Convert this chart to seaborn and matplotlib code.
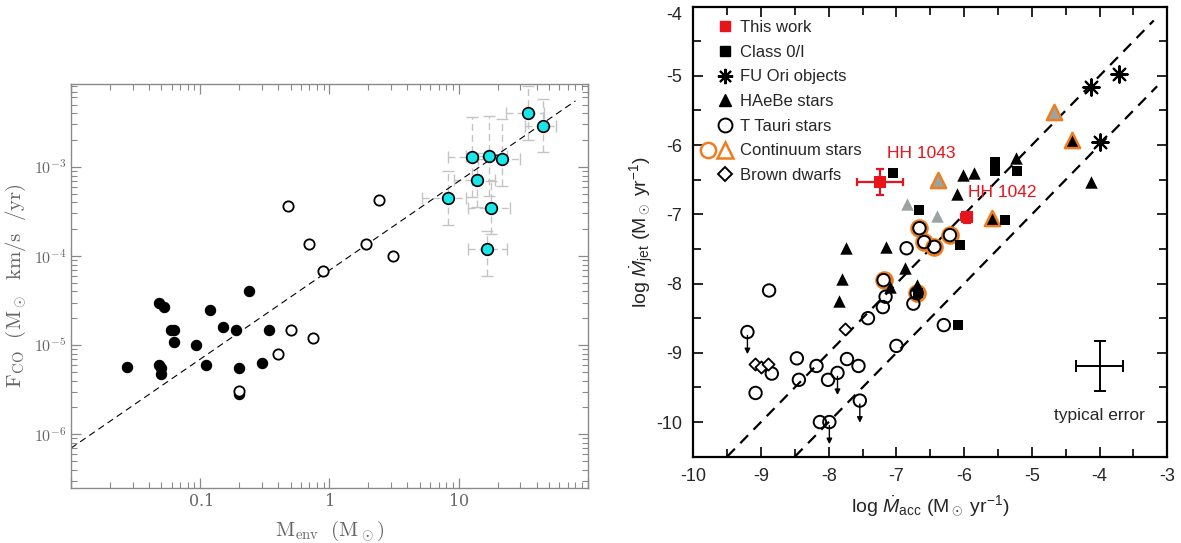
import numpy as np
import matplotlib
matplotlib.use("Agg")
import matplotlib.pyplot as plt
from matplotlib.lines import Line2D
from matplotlib.legend_handler import HandlerTuple
from matplotlib.ticker import FixedLocator, NullFormatter, MultipleLocator
import seaborn as sns

# ---------------- left panel data (F_CO vs M_env) ----------------
fill_x = [0.027, 0.048, 0.050, 0.050, 0.048, 0.052, 0.059, 0.0625, 0.063, 0.092,
          0.12, 0.15, 0.11, 0.19, 0.20, 0.20, 0.24, 0.30, 0.34]
fill_y = [5.7e-6, 6.0e-6, 5.5e-6, 4.7e-6, 2.96e-5, 2.65e-5, 1.48e-5, 1.48e-5, 1.08e-5, 1.0e-5,
          2.47e-5, 1.58e-5, 6.0e-6, 1.48e-5, 5.6e-6, 2.8e-6, 4.05e-5, 6.3e-6, 1.48e-5]

open_x = [0.20, 0.40, 0.50, 0.75, 0.48, 0.70, 0.89, 1.9, 2.4, 3.1]
open_y = [3.1e-6, 7.9e-6, 1.48e-5, 1.19e-5, 3.6e-4, 1.38e-4, 6.8e-5, 1.38e-4, 4.2e-4, 1.0e-4]

cyan_x = [8.2, 12.6, 13.8, 17.1, 21.5, 17.9, 16.6, 34.4, 44.6]
cyan_y = [4.5e-4, 1.29e-3, 7.1e-4, 1.33e-3, 1.21e-3, 3.5e-4, 1.19e-4, 4.0e-3, 2.9e-3]
# error bar extents in dex (low side, high side)
cyan_xlo = [0.20, 0.18, 0.18, 0.18, 0.18, 0.18, 0.15, 0.17, 0.14]
cyan_xhi = [0.14, 0.14, 0.14, 0.14, 0.14, 0.14, 0.15, 0.12, 0.10]
cyan_ylo = [0.30, 0.45, 0.30, 0.45, 0.30, 0.30, 0.30, 0.30, 0.30]
cyan_yhi = [0.30, 0.45, 0.30, 0.45, 0.45, 0.30, 0.20, 0.30, 0.30]

fit_x = [0.01, 80]
fit_y = [7.0e-7, 5.5e-3]

# ---------------- right panel data (log Mjet vs log Macc) ----------------
class0_x = [-7.05, -6.67, -5.54, -5.54, -5.22, -5.39, -6.06, -6.68, -6.09]
class0_y = [-6.40, -6.94, -6.24, -6.37, -6.37, -7.08, -7.45, -8.14, -8.60]

fuori_x = [-4.12, -3.71, -4.00]
fuori_y = [-5.16, -4.97, -5.95]

haebe_x = [-7.75, -7.15, -7.80, -7.85, -6.88, -7.09, -6.70, -6.10, -6.01, -5.85, -5.24, -4.13]
haebe_y = [-7.49, -7.47, -7.93, -8.25, -7.77, -8.05, -8.02, -6.70, -6.43, -6.41, -6.19, -6.54]
haebe_gray_x = [-6.84, -6.40]
haebe_gray_y = [-6.85, -7.03]

cont_tri_gray_x = [-6.38, -4.67]
cont_tri_gray_y = [-6.50, -5.52]
cont_tri_black_x = [-4.41, -5.59]
cont_tri_black_y = [-5.93, -7.06]

tts_x = [-8.88, -9.20, -9.08, -8.84, -8.47, -8.44, -8.18, -8.01, -7.87, -7.73, -7.56, -7.54,
         -8.13, -7.99, -7.42, -7.20, -7.16, -7.19, -6.85, -6.75, -6.70, -6.66, -6.59, -6.44,
         -6.21, -6.30, -7.00]
tts_y = [-8.10, -8.70, -9.58, -9.30, -9.08, -9.39, -9.19, -9.39, -9.29, -9.09, -9.19, -9.69,
         -10.0, -10.0, -8.50, -8.34, -8.19, -7.95, -7.49, -8.29, -8.14, -7.20, -7.40, -7.47,
         -7.30, -8.60, -8.90]
ul_x = [-9.20, -7.87, -7.54, -7.99]
ul_y = [-8.70, -9.29, -9.69, -10.0]

cont_circ_x = [-7.19, -6.70, -6.66, -6.59, -6.44, -6.21]
cont_circ_y = [-7.95, -8.14, -7.20, -7.40, -7.47, -7.30]

bd_x = [-9.09, -9.00, -8.89, -7.76]
bd_y = [-9.16, -9.21, -9.16, -8.65]

this_x = [-7.24, -5.96]
this_y = [-6.53, -7.04]
this_xerr = [0.34, 0.08]
this_yerr = [0.19, 0.08]
this_names = ["HH 1043", "HH 1042"]
name_x = [-7.14, -5.94]
name_y = [-6.12, -6.69]

line1_x = [-9.5, -3.2]
line2_x = [-8.5, -3.15]
line_offsets = [-1.0, -2.0]

err_x, err_y, err_dx, err_dy = -4.0, -9.19, 0.35, 0.355

sns.set_style("ticks")
plt.rcParams['font.family'] = ['Liberation Sans', 'DejaVu Sans']
plt.rcParams['axes.unicode_minus'] = False
plt.rcParams['mathtext.fontset'] = 'custom'
plt.rcParams['mathtext.rm'] = 'Liberation Sans'
plt.rcParams['mathtext.it'] = 'Liberation Sans:italic'
plt.rcParams['mathtext.bf'] = 'Liberation Sans:bold'

fig = plt.figure(figsize=(11.81, 5.43), dpi=100)

# =================== left panel ===================
gray = '#8a8a8a'
tgray = '#666666'
ax1 = fig.add_axes([0.0601, 0.1013, 0.4378, 0.744])
ax1.set_xscale('log')
ax1.set_yscale('log')

cx = np.array(cyan_x)
cy = np.array(cyan_y)
xerr = [cx - cx / 10 ** np.array(cyan_xlo), cx * 10 ** np.array(cyan_xhi) - cx]
yerr = [cy - cy / 10 ** np.array(cyan_ylo), cy * 10 ** np.array(cyan_yhi) - cy]
eb = ax1.errorbar(cx, cy, xerr=xerr, yerr=yerr, fmt='none', ecolor='#c4c4c4',
                  elinewidth=1, capsize=4, capthick=1, zorder=1)
for lc in eb[2]:
    lc.set_linestyle((0, (5, 3)))

ax1.plot(fit_x, fit_y, ls=(0, (6, 4)), color='black', lw=0.8, zorder=2)

sns.scatterplot(x=fill_x, y=fill_y, ax=ax1, color='black', s=55, edgecolor='black',
                linewidth=0.8, zorder=3)
sns.scatterplot(x=open_x, y=open_y, ax=ax1, facecolor='white', edgecolor='black', s=55,
                linewidth=1.3, zorder=4)
sns.scatterplot(x=cyan_x, y=cyan_y, ax=ax1, facecolor='#18e6e8', edgecolor='black', s=70,
                linewidth=1.2, zorder=5)

ax1.set_xlim(0.01, 100)
ax1.set_ylim(2.5e-7, 8.5e-3)
for sp in ax1.spines.values():
    sp.set_color(gray)
    sp.set_linewidth(1.0)
ax1.tick_params(which='both', direction='in', top=True, right=True, color=gray,
                labelcolor=tgray, labelsize=11.5)
ax1.tick_params(which='major', length=7, width=0.9)
ax1.tick_params(which='minor', length=4, width=0.8)
ax1.xaxis.set_major_locator(FixedLocator([0.01, 0.1, 1, 10, 100]))
ax1.set_xticklabels(['', r'$\mathregular{0.1}$', r'$\mathregular{1}$', r'$\mathregular{10}$', ''])
ax1.yaxis.set_major_locator(FixedLocator([1e-6, 1e-5, 1e-4, 1e-3]))
ax1.set_yticklabels([r'$10^{-6}$', r'$10^{-5}$', r'$10^{-4}$', r'$10^{-3}$'])
for lab in ax1.get_xticklabels() + ax1.get_yticklabels():
    lab.set_family('DejaVu Serif')
    lab.set_math_fontfamily('cm')
ax1.xaxis.set_minor_formatter(NullFormatter())
ax1.yaxis.set_minor_formatter(NullFormatter())
ax1.set_xlabel(r'$\mathrm{M_{env}\ \ (M_\odot)}$', fontsize=15, color=tgray,
               math_fontfamily='cm', labelpad=6)
ax1.set_ylabel(r'$\mathrm{F_{CO}\ \ (M_\odot\ \ km/s\ \ /yr)}$', fontsize=15, color=tgray,
               math_fontfamily='cm', labelpad=4)

# =================== right panel ===================
ax2 = fig.add_axes([0.587, 0.159, 0.4014, 0.8288])
orange = '#ee7d20'

for xs, off in zip([line1_x, line2_x], line_offsets):
    ax2.plot(xs, [v + off for v in xs], ls=(0, (5, 3.5)), color='black', lw=1.6, zorder=1)

# upper-limit arrows
for x, y in zip(ul_x, ul_y):
    ax2.annotate('', xy=(x, y - 0.32), xytext=(x, y - 0.05),
                 arrowprops=dict(arrowstyle='-|>', color='black', lw=1.0,
                                 mutation_scale=8, shrinkA=0, shrinkB=0), zorder=2)

sns.scatterplot(x=cont_circ_x, y=cont_circ_y, ax=ax2, facecolor='white', edgecolor=orange,
                s=125, linewidth=2.2, zorder=3)
sns.scatterplot(x=tts_x, y=tts_y, ax=ax2, facecolor='none', edgecolor='black', s=80,
                linewidth=1.4, zorder=4)
sns.scatterplot(x=bd_x, y=bd_y, ax=ax2, marker='D', facecolor='white', edgecolor='black',
                s=38, linewidth=1.3, zorder=4)
sns.scatterplot(x=haebe_x, y=haebe_y, ax=ax2, marker='^', color='black', s=80,
                linewidth=0, zorder=5)
sns.scatterplot(x=haebe_gray_x, y=haebe_gray_y, ax=ax2, marker='^', color='#9aa5a3', s=80,
                linewidth=0, zorder=5)
sns.scatterplot(x=cont_tri_gray_x, y=cont_tri_gray_y, ax=ax2, marker='^', facecolor='#9aa5a3',
                edgecolor=orange, s=120, linewidth=1.8, zorder=5)
sns.scatterplot(x=cont_tri_black_x, y=cont_tri_black_y, ax=ax2, marker='^', facecolor='black',
                edgecolor=orange, s=120, linewidth=1.8, zorder=5)
sns.scatterplot(x=class0_x, y=class0_y, ax=ax2, marker='s', color='black', s=48,
                linewidth=0, zorder=6)
sns.scatterplot(x=fuori_x, y=fuori_y, ax=ax2, marker=(8, 2, 0), color='black', s=140,
                linewidth=1.5, zorder=6)

red = '#e8141c'
ax2.errorbar(this_x, this_y, xerr=this_xerr, yerr=this_yerr, fmt='none', ecolor=red,
             elinewidth=1.6, capsize=3, capthick=1.6, zorder=7)
sns.scatterplot(x=this_x, y=this_y, ax=ax2, marker='s', color=red, s=70, linewidth=0, zorder=8)
for nm, x, y in zip(this_names, name_x, name_y):
    ax2.text(x, y, nm, color=red, fontsize=12.5, ha='left', va='center')

ax2.errorbar([err_x], [err_y], xerr=[err_dx], yerr=[err_dy], fmt='none', ecolor='black',
             elinewidth=1.4, capsize=4, capthick=1.4)
ax2.text(err_x, err_y - 0.72, 'typical error', fontsize=12.5, ha='center', va='center')

ax2.set_xlim(-10, -3)
ax2.set_ylim(-10.5, -4)
ax2.xaxis.set_major_locator(MultipleLocator(1))
ax2.xaxis.set_minor_locator(MultipleLocator(0.5))
ax2.yaxis.set_major_locator(MultipleLocator(1))
ax2.yaxis.set_minor_locator(MultipleLocator(0.5))
for sp in ax2.spines.values():
    sp.set_color('black')
    sp.set_linewidth(1.6)
ax2.tick_params(which='both', direction='in', top=True, right=True, width=1.4,
                labelsize=13, pad=8)
ax2.tick_params(which='major', length=7)
ax2.tick_params(which='minor', length=6)
fig.canvas.draw()
for lab in ax2.get_yticklabels():
    if lab.get_text() == '-4':
        lab.set_va('top')

ax2.set_xlabel(r'log $\dot{M}_{\mathrm{acc}}$ (M$_\odot$ yr$^{-1}$)', fontsize=14, labelpad=6)
ax2.set_ylabel(r'log $\dot{M}_{\mathrm{jet}}$ (M$_\odot$ yr$^{-1}$)', fontsize=14, labelpad=1)

# legend
blank = Line2D([], [], ls='none')
def mk(marker, **kw):
    return Line2D([], [], ls='none', marker=marker, **kw)

handles = [
    (blank, mk('s', color=red, ms=7)),
    (blank, mk('s', color='black', ms=7)),
    (blank, mk((8, 2, 0), color='black', ms=11, mew=1.5)),
    (blank, mk('^', color='black', ms=9)),
    (blank, mk('o', mfc='none', mec='black', ms=10, mew=1.4)),
    (mk('o', mfc='none', mec=orange, ms=11, mew=1.8), mk('^', mfc='none', mec=orange, ms=11, mew=1.8)),
    (blank, mk('D', mfc='none', mec='black', ms=7, mew=1.4)),
]
labels = ['This work', 'Class 0/I', 'FU Ori objects', 'HAeBe stars', 'T Tauri stars',
          'Continuum stars', 'Brown dwarfs']
ax2.legend(handles, labels, handler_map={tuple: HandlerTuple(ndivide=None, pad=0)},
           loc='upper left', bbox_to_anchor=(0.012, 0.97), frameon=False, fontsize=12,
           handlelength=2.1, handletextpad=0.35, labelspacing=0.58, borderaxespad=0,
           borderpad=0)

fig.savefig('out.png', dpi=100)
